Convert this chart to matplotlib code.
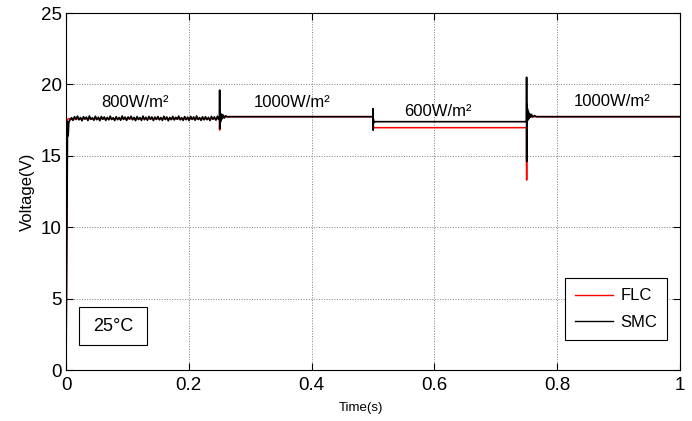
import matplotlib.pyplot as plt
from matplotlib.patches import Rectangle
import numpy as np

plt.rcParams['font.family'] = ['Liberation Sans', 'DejaVu Sans']

# SMC (black) key points: start-up, transients at the irradiance steps
smc_start_t = [0.0, 0.0025, 0.0035, 0.0045, 0.006, 0.008]
smc_start_v = [0.0, 17.4, 16.4, 17.3, 17.5, 17.55]

# ripple of SMC during the 800 W/m2 interval (V, around the mean level)
smc_800_level = 17.62
smc_800_ripple = [0.05, -0.14, 0.12, -0.08, 0.16, -0.10, 0.06, -0.17, 0.12, -0.05,
                  0.09, -0.15, 0.17, -0.07, 0.04, -0.13, 0.15, -0.09, 0.08, -0.16,
                  0.13, -0.06, 0.10, -0.14, 0.07, -0.10, 0.16, -0.08, 0.05, -0.15,
                  0.12, -0.09, 0.06, -0.13, 0.17, -0.07, 0.09, -0.14, 0.10, -0.05,
                  0.15, -0.10, 0.07, -0.16, 0.13, -0.08, 0.06, -0.14, 0.16, -0.09,
                  0.08, -0.13, 0.14, -0.06, 0.10, -0.15, 0.09, -0.07, 0.13, -0.10,
                  0.06, -0.14, 0.15, -0.08, 0.10, -0.17, 0.07, -0.09, 0.14, -0.11,
                  0.08, -0.06, 0.16, -0.10, 0.05, -0.14, 0.13, -0.09, 0.09, -0.15,
                  0.14, -0.07, 0.10, -0.13, 0.17, -0.08, 0.06, -0.14, 0.11, -0.10,
                  0.12, -0.09, 0.07, -0.15, 0.14, -0.06, 0.10, -0.12, 0.15, -0.08]

smc_step1_t = [0.2500, 0.2502, 0.2504, 0.2508, 0.2512, 0.2518, 0.2525, 0.2535,
               0.2545, 0.2560, 0.2580, 0.2600, 0.2630, 0.2660, 0.5000]
smc_step1_v = [17.6, 19.6, 16.9, 18.1, 17.3, 17.95, 17.45, 17.9,
               17.6, 17.85, 17.65, 17.8, 17.72, 17.74, 17.74]

smc_step2_t = [0.5001, 0.5003, 0.5005, 0.5010, 0.5020, 0.7500]
smc_step2_v = [18.3, 16.8, 17.6, 17.3, 17.39, 17.39]

smc_step3_t = [0.7501, 0.7503, 0.7505, 0.7510, 0.7515, 0.7522, 0.7530, 0.7540,
               0.7550, 0.7565, 0.7580, 0.7600, 0.7630, 0.7660, 0.7700, 1.0]
smc_step3_v = [20.5, 14.6, 18.6, 17.2, 18.3, 17.5, 18.1, 17.6,
               17.95, 17.7, 17.9, 17.72, 17.82, 17.74, 17.74, 17.74]

# FLC (red)
flc_t = [0.0, 0.0020, 0.0040, 0.2500, 0.2502, 0.2504, 0.2510, 0.5000, 0.5002,
         0.5004, 0.5010, 0.7500, 0.7502, 0.7504, 0.7510, 1.0]
flc_v = [0.0, 17.5, 17.6, 17.6, 16.8, 17.8, 17.74, 17.74, 16.8,
         17.0, 16.97, 16.97, 13.3, 17.9, 17.74, 17.74]

irr_labels = ['800W/m²', '1000W/m²', '600W/m²', '1000W/m²']
irr_x = [0.112, 0.368, 0.606, 0.889]
irr_y = [18.7, 18.75, 18.1, 18.8]

ripple_t = np.linspace(0.009, 0.249, len(smc_800_ripple))
smc_t = smc_start_t + list(ripple_t) + smc_step1_t + smc_step2_t + smc_step3_t
smc_v = (smc_start_v + [smc_800_level + r for r in smc_800_ripple]
         + smc_step1_v + smc_step2_v + smc_step3_v)

fig = plt.figure(figsize=(6.92, 4.21), dpi=100)
ax = fig.add_axes([0.0954, 0.1211, 0.8873, 0.848])

ax.plot(flc_t, flc_v, color='red', lw=1.1, label='FLC')
ax.plot(smc_t, smc_v, color='black', lw=1.2, label='SMC')

for lab, x, y in zip(irr_labels, irr_x, irr_y):
    ax.text(x, y, lab, ha='center', va='center', fontsize=12)

# temperature box
ax.add_patch(Rectangle((0.0212, 1.75), 0.1108, 2.66, fc='white', ec='black',
                       lw=0.8, zorder=3))
ax.text(0.0766, 3.05, '25°C', ha='center', va='center', fontsize=13, zorder=4)

ax.set_xlim(0, 1)
ax.set_ylim(0, 25)
ax.set_xticks([0, 0.2, 0.4, 0.6, 0.8, 1])
ax.set_xticklabels(['0', '0.2', '0.4', '0.6', '0.8', '1'])
ax.set_yticks([0, 5, 10, 15, 20, 25])
ax.tick_params(direction='in', top=True, right=True, labelsize=13.5, length=5)
ax.tick_params(axis='x', pad=5)
ax.tick_params(axis='y', pad=3)
ax.grid(True, color='gray', linestyle=':', linewidth=0.7)
ax.set_xlabel('Time(s)', fontsize=9.5, labelpad=6)
ax.xaxis.set_label_coords(0.48, -0.09)
ax.set_ylabel('Voltage(V)', fontsize=12, labelpad=4)

leg = ax.legend(loc='lower right', bbox_to_anchor=(0.9788, 0.084), fontsize=12,
                fancybox=False, framealpha=1, edgecolor='black', handlelength=2.3,
                handletextpad=0.4, borderpad=0.6, labelspacing=0.7,
                borderaxespad=0)
leg.get_frame().set_linewidth(0.8)
for line in leg.get_lines():
    line.set_linewidth(1.0)

fig.savefig('out.png', dpi=100)
